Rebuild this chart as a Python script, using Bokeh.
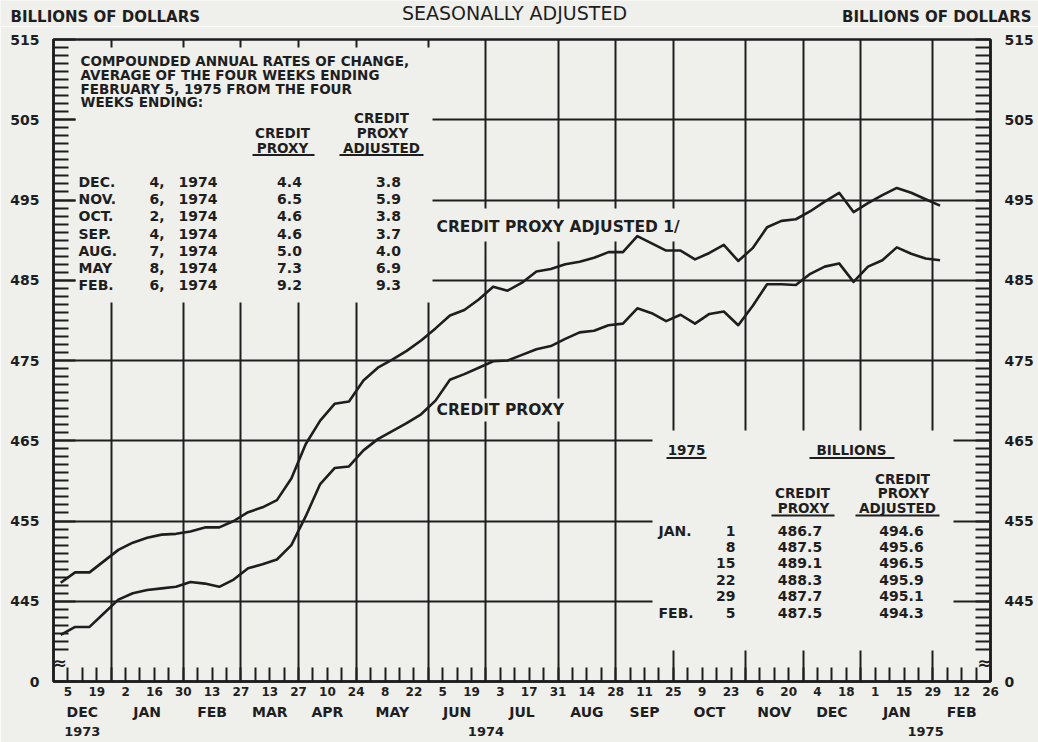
from bokeh.plotting import figure
from bokeh.layouts import column
from bokeh.models import FixedTicker, LinearAxis, Range1d, Grid, Plot
from bokeh.core.properties import value
from bokeh.embed import file_html
from bokeh.resources import INLINE

# ---------------- data ----------------
# statement weeks: week 1 = Dec 5 1973 ... week 62 = Feb 5 1975 (axis week 0 = Nov 28 1973)
week_numbers = list(range(1, 63))

credit_proxy = [
    440.8, 441.8, 441.8, 443.5, 445.2, 446.0, 446.4, 446.6, 446.8, 447.4,
    447.2, 446.8, 447.7, 449.1, 449.6, 450.2, 452.0, 455.6, 459.6, 461.6,
    461.8, 463.8, 465.2, 466.2, 467.2, 468.3, 470.0, 472.6, 473.3, 474.1,
    474.9, 475.0, 475.7, 476.4, 476.8, 477.7, 478.5, 478.7, 479.4, 479.6,
    481.5, 480.9, 479.9, 480.7, 479.6, 480.8, 481.1, 479.4, 481.8, 484.5,
    484.5, 484.4, 485.8, 486.7, 487.1, 484.8, 486.7, 487.5, 489.1, 488.3,
    487.7, 487.5,
]
credit_proxy_adjusted = [
    447.3, 448.6, 448.6, 450.0, 451.4, 452.3, 452.9, 453.3, 453.4, 453.7,
    454.2, 454.2, 455.0, 456.1, 456.7, 457.6, 460.3, 464.6, 467.5, 469.6,
    469.9, 472.5, 474.1, 475.1, 476.2, 477.5, 479.0, 480.6, 481.3, 482.6,
    484.2, 483.7, 484.7, 486.1, 486.4, 487.0, 487.3, 487.8, 488.5, 488.5,
    490.5, 489.6, 488.7, 488.7, 487.6, 488.4, 489.4, 487.4, 489.0, 491.6,
    492.4, 492.6, 493.6, 494.8, 495.9, 493.5, 494.6, 495.6, 496.5, 495.9,
    495.1, 494.3,
]

tick_days = ["5", "19", "2", "16", "30", "13", "27", "13", "27", "10", "24",
             "8", "22", "5", "19", "3", "17", "31", "14", "28", "11", "25",
             "9", "23", "6", "20", "4", "18", "1", "15", "29", "12", "26"]
month_names = ["DEC", "JAN", "FEB", "MAR", "APR", "MAY", "JUN", "JUL", "AUG",
               "SEP", "OCT", "NOV", "DEC", "JAN", "FEB"]
month_bounds = [0, 4, 9, 13, 17, 21, 26, 30, 35, 39, 43, 48, 52, 56, 61, 65]
year_labels = ["1973", "1974", "1975"]
year_bounds = [0, 4, 56, 65]

rate_months = ["DEC.", "NOV.", "OCT.", "SEP.", "AUG.", "MAY", "FEB."]
rate_days = [4, 6, 2, 4, 7, 8, 6]
rate_proxy = [4.4, 6.5, 4.6, 4.6, 5.0, 7.3, 9.2]
rate_adjusted = [3.8, 5.9, 3.8, 3.7, 4.0, 6.9, 9.3]

level_months = ["JAN.", "", "", "", "", "FEB."]
level_days = [1, 8, 15, 22, 29, 5]
level_proxy = credit_proxy[-6:]
level_adjusted = credit_proxy_adjusted[-6:]

# ---------------- style / layout ----------------
INK = "#1e1e1e"
BG = "#efefec"
FONT = "DejaVu Sans"
PW, PH = 1038, 742          # whole page
HDR = 26                    # height of the lettering strip above the chart
FX0, FX1, FY0, FY1 = 53, 990, 39, 681   # frame edges in page pixels
CAN_UNALIGN = "frame_align" in Plot.properties()


def wx(px):
    return (px - FX0) * 65.0 / (FX1 - FX0)


def vy(py):
    return 435.0 + (FY1 - py) * 80.0 / (FY1 - FY0)


# ---- header strip (lettering above the frame) ----
hdr = figure(frame_width=PW, frame_height=HDR, x_range=Range1d(0, PW), y_range=Range1d(HDR, 0),
             x_axis_type=None, y_axis_type=None, output_backend="svg",
             toolbar_location=None, min_border=0, background_fill_color=BG,
             border_fill_color=BG, outline_line_color=None)
if CAN_UNALIGN:
    hdr.frame_align = False
hdr.text(x=[10], y=[16], text=["BILLIONS OF DOLLARS"], text_font=value(FONT),
         text_font_size="15px", text_font_style="bold", text_align="left",
         text_baseline="middle", text_color=INK)
hdr.text(x=[1031], y=[16], text=["BILLIONS OF DOLLARS"], text_font=value(FONT),
         text_font_size="15px", text_font_style="bold", text_align="right",
         text_baseline="middle", text_color=INK)
hdr.text(x=[514], y=[12.5], text=["SEASONALLY ADJUSTED"], text_font=value(FONT),
         text_font_size="19px", text_font_style="normal", text_align="center",
         text_baseline="middle", text_color=INK)

# ---- main chart ----
p = figure(width=PW, height=PH - HDR, x_range=Range1d(0, 65), y_range=Range1d(435, 515),
           x_axis_type=None, y_axis_type=None, output_backend="svg",
           toolbar_location=None, min_border_left=FX0, min_border_right=PW - FX1,
           min_border_top=FY0 - HDR, min_border_bottom=PH - FY1,
           background_fill_color=BG, border_fill_color=BG)
if CAN_UNALIGN:
    p.frame_align = False
p.outline_line_color = INK
p.outline_line_width = 2.5
p.outline_line_alpha = 1.0

# grid lines
p.add_layout(Grid(dimension=0, ticker=FixedTicker(ticks=month_bounds[1:-1]),
                  grid_line_color=INK, grid_line_width=2))
p.add_layout(Grid(dimension=1, ticker=FixedTicker(ticks=list(range(445, 506, 10))),
                  grid_line_color=INK, grid_line_width=2))

# paper areas where the grid is interrupted by lettering (page pixels: x0, x1, ytop, ybottom)
masks = [(75, 432, 47, 302), (652, 953, 430, 650), (432, 697, 208, 241), (432, 570, 398, 421)]
p.quad(left=[wx(m[0]) for m in masks], right=[wx(m[1]) for m in masks],
       top=[vy(m[2]) for m in masks], bottom=[vy(m[3]) for m in masks],
       fill_color=BG, line_color=None)

# series (plotted at the middle of each statement week)
x_pos = [w - 0.5 for w in week_numbers]
p.line(x_pos, credit_proxy_adjusted, line_color=INK, line_width=2.6, line_join="round")
p.line(x_pos, credit_proxy, line_color=INK, line_width=2.6, line_join="round")


def txt(xs, ys, texts, size="14px", align="left", style="bold"):
    p.text(x=xs, y=ys, text=texts, text_font=value(FONT), text_font_size=size,
           text_font_style=style, text_align=align, text_baseline="middle", text_color=INK)


def uline(x0, x1, y):
    p.segment(x0=[wx(x0)], y0=[vy(y)], x1=[wx(x1)], y1=[vy(y)], line_color=INK, line_width=1.8)


# curve labels
txt([wx(436)], [vy(226)], ["CREDIT PROXY ADJUSTED 1/"], size="15.5px")
txt([wx(436)], [vy(409)], ["CREDIT PROXY"], size="15.5px")

# rates-of-change block
head = ["COMPOUNDED ANNUAL RATES OF CHANGE,", "AVERAGE OF THE FOUR WEEKS ENDING",
        "FEBRUARY 5, 1975 FROM THE FOUR", "WEEKS ENDING:"]
txt([wx(80)] * 4, [vy(60.5 + 13.8 * i) for i in range(4)], head, size="13.5px")
txt([wx(381), wx(282), wx(382), wx(282), wx(381)],
    [vy(117), vy(132), vy(132), vy(147), vy(147)],
    ["CREDIT", "CREDIT", "PROXY", "PROXY", "ADJUSTED"], size="13.5px", align="center")
uline(252, 314, 154.5)
uline(339, 423, 154.5)
ry = [vy(181.7 + 17.1 * i) for i in range(len(rate_months))]
txt([wx(78)] * 7, ry, rate_months)
txt([wx(149)] * 7, ry, ["%d," % d for d in rate_days])
txt([wx(178)] * 7, ry, ["1974"] * 7)
txt([wx(289)] * 7, ry, ["%.1f" % v for v in rate_proxy], align="center")
txt([wx(388)] * 7, ry, ["%.1f" % v for v in rate_adjusted], align="center")

# 1975 levels block
txt([wx(686), wx(851)], [vy(449), vy(449)], ["1975", "BILLIONS"], size="13.5px", align="center")
uline(666, 706, 457.5)
uline(809, 894, 457.5)
txt([wx(902), wx(802), wx(903), wx(803), wx(897)],
    [vy(478), vy(492.5), vy(492.5), vy(507.5), vy(507.5)],
    ["CREDIT", "CREDIT", "PROXY", "PROXY", "ADJUSTED"], size="13.5px", align="center")
uline(771, 834, 515)
uline(855, 939, 515)
ly = [vy(530 + 16.4 * i) for i in range(len(level_days))]
txt([wx(658)] * 6, ly, level_months)
txt([wx(735)] * 6, ly, [str(d) for d in level_days], align="right")
txt([wx(799.5)] * 6, ly, ["%.1f" % v for v in level_proxy], align="center")
txt([wx(901)] * 6, ly, ["%.1f" % v for v in level_adjusted], align="center")

# scale-break marks on both axes
txt([wx(52)], [vy(662)], ["\u2248"], size="17px", align="left")
txt([wx(991)], [vy(662)], ["\u2248"], size="17px", align="right")

# ---------------- axes ----------------
y_major = list(range(435, 516, 10))
y_minor = [v for v in range(439, 515) if v % 10 != 5]


def style_axis(ax, size, standoff):
    ax.axis_line_color = INK
    ax.axis_line_width = 2.5
    ax.major_tick_out = 0
    ax.minor_tick_out = 0
    ax.major_tick_line_color = INK
    ax.minor_tick_line_color = INK
    ax.major_tick_line_width = 2
    ax.minor_tick_line_width = 2
    ax.major_label_standoff = standoff
    ax.major_label_text_font = FONT
    ax.major_label_text_font_size = size
    ax.major_label_text_font_style = "bold"
    ax.major_label_text_color = INK


for side, standoff, tin in (("left", 14, 22), ("right", 14, 15)):
    ax = LinearAxis(ticker=FixedTicker(ticks=y_major, minor_ticks=y_minor),
                    major_label_overrides={435: "0"})
    style_axis(ax, "14px", standoff)
    ax.major_tick_in = tin
    ax.minor_tick_in = 15
    p.add_layout(ax, side)

day_ticks = list(range(1, 66, 2))
ax_days = LinearAxis(ticker=FixedTicker(ticks=day_ticks, minor_ticks=list(range(2, 65, 2))),
                     major_label_overrides=dict(zip(day_ticks, tick_days)))
style_axis(ax_days, "12px", 5)
ax_days.major_tick_in = 14
ax_days.minor_tick_in = 14
p.add_layout(ax_days, "below")

month_centers = [(a + b) / 2 for a, b in zip(month_bounds[:-1], month_bounds[1:])]
ax_months = LinearAxis(ticker=FixedTicker(ticks=month_centers),
                       major_label_overrides=dict(zip(month_centers, month_names)))
style_axis(ax_months, "14px", 5)
ax_months.axis_line_color = None
ax_months.major_tick_line_color = None
ax_months.minor_tick_line_color = None
p.add_layout(ax_months, "below")

year_centers = [(a + b) / 2 for a, b in zip(year_bounds[:-1], year_bounds[1:])]
ax_years = LinearAxis(ticker=FixedTicker(ticks=year_centers),
                      major_label_overrides=dict(zip(year_centers, year_labels)))
style_axis(ax_years, "13px", 4)
ax_years.axis_line_color = None
ax_years.major_tick_line_color = None
ax_years.minor_tick_line_color = None
p.add_layout(ax_years, "below")

page = column(hdr, p, spacing=0)
open("out.html", "w").write(file_html(page, INLINE))
